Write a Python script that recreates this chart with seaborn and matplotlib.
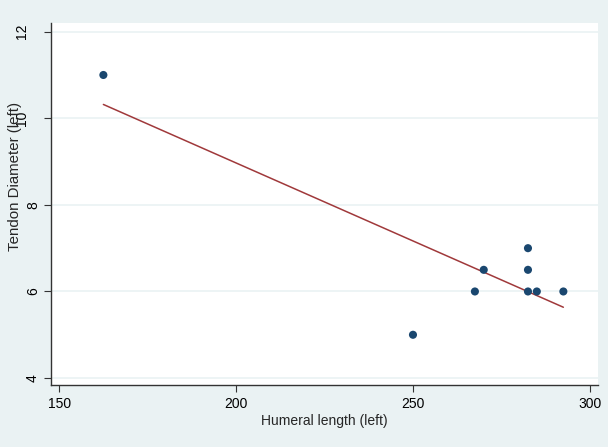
import numpy as np
import pandas as pd
import matplotlib
matplotlib.use("Agg")
import matplotlib.pyplot as plt
import matplotlib.transforms as mtransforms
import seaborn as sns

# Data
humeral_length = [162.5, 250, 267.5, 270, 282.5, 282.5, 282.5, 285, 292.5]
tendon_diameter = [11, 5, 6, 6.5, 7, 6.5, 6, 6, 6]
x_ticks = [150, 200, 250, 300]
y_ticks = [4, 6, 8, 10, 12]

df = pd.DataFrame({"humeral": humeral_length, "tendon": tendon_diameter})

sns.set_style("white")
plt.rcParams['font.family'] = ['Liberation Sans', 'DejaVu Sans']

bg = "#EAF2F3"
fig = plt.figure(figsize=(6.08, 4.47), dpi=100, facecolor=bg)
ax = fig.add_axes([0.0839, 0.1387, 0.8997, 0.8098])
ax.set_facecolor("white")

# horizontal grid lines like Stata
for yt in y_ticks:
    ax.axhline(yt, color=bg, lw=1.2, zorder=0)

sns.regplot(data=df, x="humeral", y="tendon", ci=None, ax=ax,
            scatter_kws=dict(color="#1A476F", s=34, edgecolor="none", alpha=1, zorder=3),
            line_kws=dict(color="#A0393B", lw=1.1, zorder=2),
            truncate=True)

ax.set_xlim(147.7, 302.3)
ax.set_ylim(3.84, 12.2)
ax.set_xticks(x_ticks)
ax.set_yticks(y_ticks)
ax.set_yticklabels([str(v) for v in y_ticks], rotation=90, va="center")

for s in ["top", "right"]:
    ax.spines[s].set_visible(False)
for s in ["left", "bottom"]:
    ax.spines[s].set_color("#333333")
    ax.spines[s].set_linewidth(1.0)

ax.tick_params(axis="both", direction="out", length=5, width=0.8, color="#333333",
               labelsize=10, labelcolor="black", bottom=True, left=True)
ax.tick_params(axis="y", pad=3)

# Stata places two-digit rotated labels further left
shift = mtransforms.ScaledTranslation(-0.11, 0, fig.dpi_scale_trans)
for lab in ax.get_yticklabels():
    if len(lab.get_text()) > 1:
        lab.set_transform(lab.get_transform() + shift)

ax.set_xlabel("Humeral length (left)", fontsize=10, labelpad=2)
# the reference draws the title shifted up, over the "10" label
ax.set_ylabel("Tendon Diameter (left)", fontsize=10.8)
ax.yaxis.set_label_coords(-0.053, 0.575)

fig.savefig("out.png", dpi=100, facecolor=bg)
